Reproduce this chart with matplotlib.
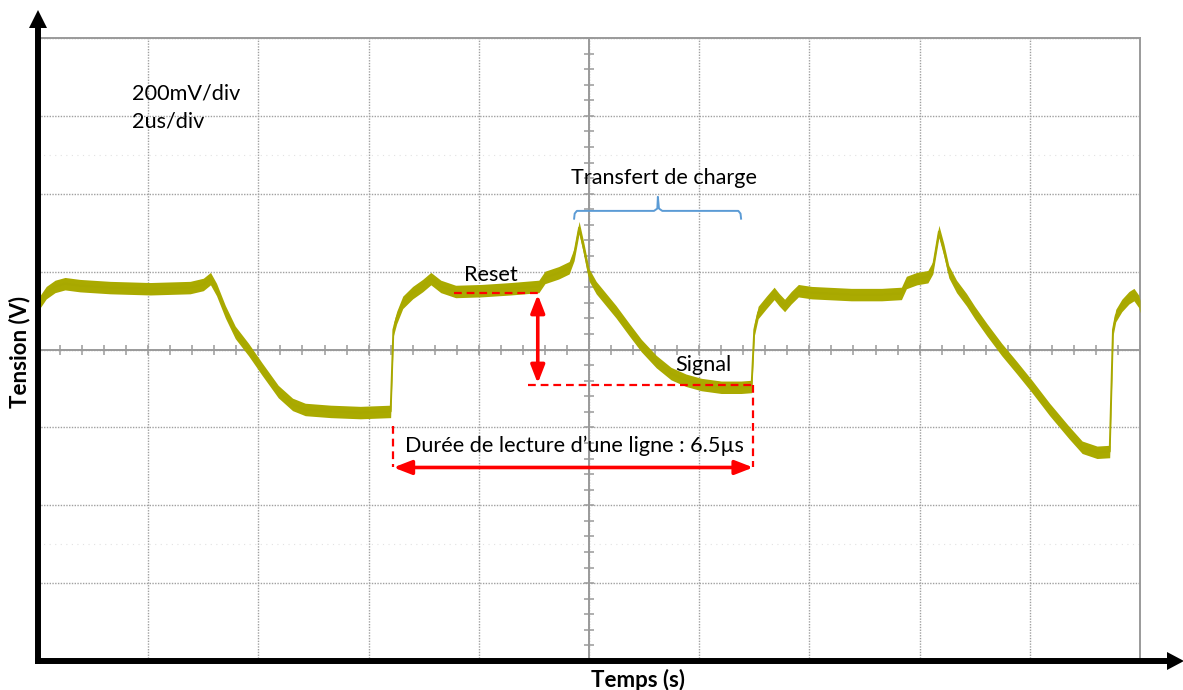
import numpy as np
import matplotlib
matplotlib.use("Agg")
import matplotlib.pyplot as plt
from matplotlib.patches import Polygon
from matplotlib.lines import Line2D

# trace: time (us) / tension (V)
t_us = [0.0, 0.15, 0.31, 0.49, 0.76, 1.31, 2.04, 2.76, 3.00, 3.13, 3.24, 3.40,
        3.58, 3.82, 4.07, 4.36, 4.62, 4.85, 5.31, 5.85, 6.40, 6.45, 6.51, 6.62,
        6.80, 6.98, 7.13, 7.31, 7.58, 8.04, 8.58, 9.09, 9.20, 9.45, 9.64, 9.73,
        9.82, 9.91, 10.00, 10.13, 10.31, 10.49, 10.73, 10.95, 11.22, 11.49, 11.76,
        12.04, 12.40, 12.76, 12.95, 13.00, 13.07, 13.22, 13.36, 13.45, 13.55,
        13.67, 13.80, 14.04, 14.76, 15.31, 15.67, 15.76, 15.95, 16.15, 16.24,
        16.35, 16.44, 16.53, 16.67, 16.85, 17.00, 17.22, 17.49, 17.76, 18.04,
        18.36, 18.71, 18.95, 19.22, 19.45, 19.51, 19.56, 19.67, 19.80, 19.89,
        19.98, 20.0]
v_volt = [0.115, 0.146, 0.162, 0.169, 0.164, 0.159, 0.156, 0.159, 0.167, 0.182,
          0.154, 0.097, 0.044, 0.000, -0.051, -0.108, -0.141, -0.154, -0.159,
          -0.162, -0.159, 0.051, 0.082, 0.121, 0.146, 0.164, 0.182, 0.162, 0.149,
          0.151, 0.156, 0.162, 0.185, 0.197, 0.210, 0.244, 0.313, 0.256, 0.192,
          0.159, 0.128, 0.097, 0.051, 0.010, -0.031, -0.062, -0.079, -0.090,
          -0.097, -0.097, -0.095, 0.051, 0.095, 0.121, 0.144, 0.128, 0.113, 0.133,
          0.151, 0.146, 0.141, 0.141, 0.144, 0.172, 0.182, 0.187, 0.210, 0.303,
          0.256, 0.200, 0.162, 0.128, 0.095, 0.051, 0.000, -0.046, -0.095, -0.154,
          -0.213, -0.251, -0.264, -0.262, 0.051, 0.087, 0.113, 0.133, 0.141,
          0.123, 0.110]

# blue brace over the charge transfer
brace_t = [9.73, 9.74, 9.78, 11.18, 11.24, 11.25, 11.27, 11.33, 12.71, 12.75, 12.76]
brace_v = [0.336, 0.349, 0.356, 0.356, 0.362, 0.392, 0.362, 0.356, 0.356, 0.349, 0.336]

plt.rcParams['font.family'] = ['Lato', 'DejaVu Sans']

W, H = 1183, 690
fig = plt.figure(figsize=(W / 100, H / 100), dpi=100)
ax = fig.add_axes([38 / W, 1 - 661 / H, 1102 / W, 623 / H])
ax.set_xlim(0, 20)
ax.set_ylim(-0.8, 0.8)

grey = '#9a9a9a'
ax.set_xticks(np.arange(0, 20.1, 2))
ax.set_yticks(np.arange(-0.8, 0.81, 0.2))
ax.set_xticks(np.arange(0, 20.01, 0.4), minor=True)
ax.set_yticks(np.arange(-0.8, 0.81, 0.04), minor=True)
ax.grid(True, which='major', ls=(0, (1, 1)), color='#a0a0a0', lw=1.0)
for yy in (-0.5, 0.5):
    ax.axhline(yy, ls=(0, (1, 4)), color='#e2e2e2', lw=0.8, zorder=0)

ax.spines['left'].set_position(('data', 10))
ax.spines['bottom'].set_position(('data', 0))
for s in ax.spines.values():
    s.set_color(grey)
    s.set_linewidth(1.4)
ax.tick_params(which='both', direction='inout', length=7, width=1.1, color=grey,
               labelbottom=False, labelleft=False)

# trace
t = np.array(t_us)
v = np.array(v_volt)
olive = '#AAAA00'
ax.fill_between(t, v - 0.016, v + 0.016, color=olive, lw=0, zorder=3)
ax.plot(t, v, color='#A8A800', lw=1.4, zorder=3)

# red markers
red = '#FF0000'
dash = (0, (3.5, 2.2))
ax.plot([7.55, 9.13], [0.146, 0.146], color=red, lw=1.6, ls=dash, zorder=4)
ax.plot([8.89, 12.98], [-0.090, -0.090], color=red, lw=1.6, ls=dash, zorder=4)
ax.plot([12.98, 12.98], [-0.090, -0.303], color=red, lw=1.6, ls=dash, zorder=4)
ax.plot([6.45, 6.45], [-0.197, -0.303], color=red, lw=1.6, ls=dash, zorder=4)
arr = dict(arrowstyle='<|-|>,head_length=0.9,head_width=0.35', color=red, lw=2.6,
           mutation_scale=12, shrinkA=0, shrinkB=0)
ax.annotate('', xy=(9.07, 0.141), xytext=(9.07, -0.087), arrowprops=arr, zorder=5)
ax.annotate('', xy=(6.45, -0.303), xytext=(12.98, -0.303), arrowprops=arr, zorder=5)

ax.plot(brace_t, brace_v, color='#5B9BD5', lw=1.4, zorder=4)

fs = 15.6
ax.text(1.71, 0.641, '200mV/div', fontsize=fs, ha='left', va='baseline')
ax.text(1.71, 0.569, '2us/div', fontsize=fs, ha='left', va='baseline')
ax.text(11.36, 0.426, 'Transfert de charge', fontsize=fs, ha='center', va='baseline')
ax.text(8.22, 0.177, 'Reset', fontsize=fs, ha='center', va='baseline', zorder=6)
ax.text(12.07, -0.056, 'Signal', fontsize=fs, ha='center', va='baseline', zorder=6)
ax.text(9.73, -0.262, 'Durée de lecture d’une ligne : 6.5µs', fontsize=fs,
        ha='center', va='baseline', zorder=6)


def px(x, y):
    return x / W, 1 - y / H


# black axis arrows
fig.add_artist(Line2D([px(38, 664)[0], px(38, 27)[0]], [px(38, 664)[1], px(38, 27)[1]],
                      color='black', lw=4.3, solid_capstyle='butt'))
fig.add_artist(Polygon([px(29, 28), px(47, 28), px(38, 10)], closed=True,
                       color='black', lw=0))
fig.add_artist(Line2D([px(35, 661)[0], px(1169, 661)[0]], [px(35, 661)[1], px(1169, 661)[1]],
                      color='black', lw=4.3, solid_capstyle='butt'))
fig.add_artist(Polygon([px(1167, 652), px(1167, 670), px(1184, 661)], closed=True,
                       color='black', lw=0))

fig.text(*px(20, 352), 'Tension (V)', rotation=90, fontsize=16, fontweight='bold',
         ha='center', va='center')
fig.text(*px(638, 680), 'Temps (s)', fontsize=16, fontweight='bold',
         ha='center', va='center')

fig.savefig('out.png', dpi=100)
